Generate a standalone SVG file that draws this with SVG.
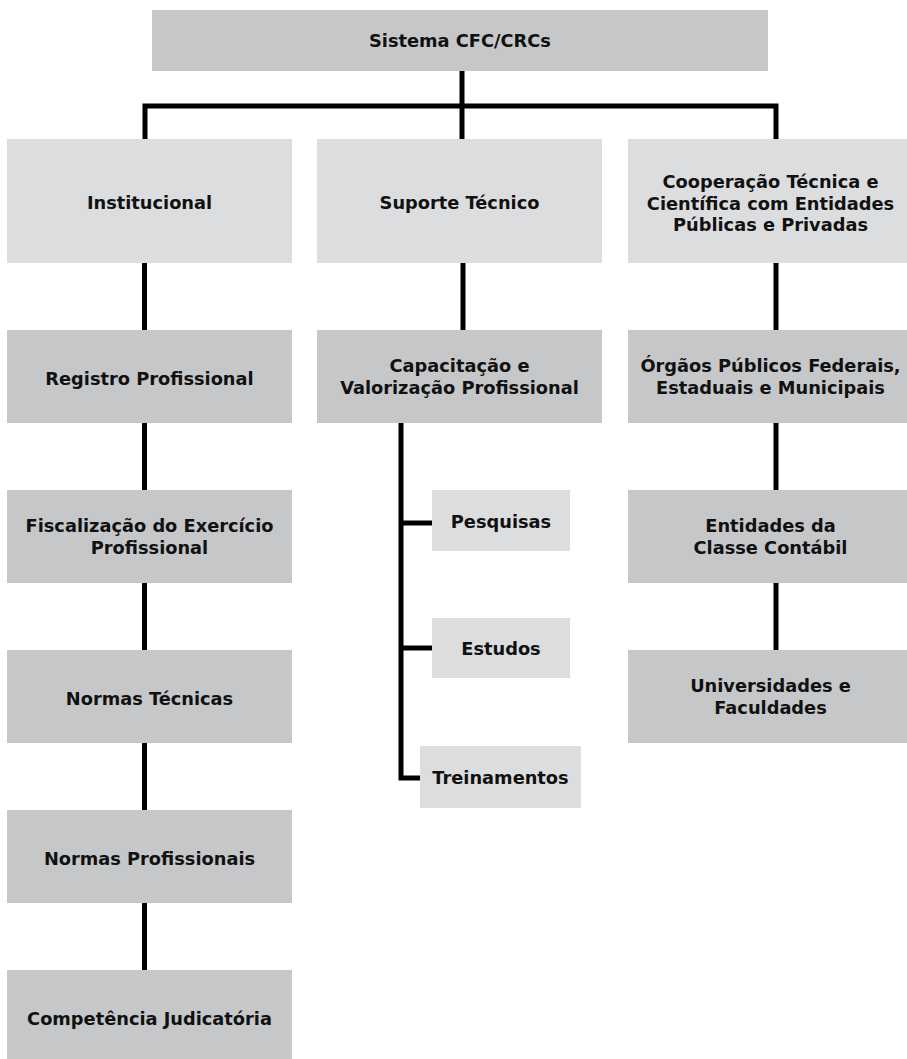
<svg xmlns="http://www.w3.org/2000/svg" width="907" height="1059" viewBox="0 0 907 1059">
<style>
.dk{fill:#c6c7c9}
.lt{fill:#dcdddf}
text{font-family:"DejaVu Sans","Liberation Sans",sans-serif;font-weight:bold;font-size:17.8px;fill:#111;text-anchor:middle}
.ln{fill:none;stroke:#000;stroke-width:5;stroke-linecap:butt;stroke-linejoin:miter}
</style>
<rect width="907" height="1059" fill="#fff"/>
<g id="connectors">
<path class="ln" d="M462,71 V139"/>
<path class="ln" d="M145,139 V106 H776 V139"/>
<path class="ln" d="M144.5,263 V330 M144.5,423 V490 M144.5,583 V650 M144.5,743 V810 M144.5,903 V970"/>
<path class="ln" d="M463,263 V330"/>
<path class="ln" d="M401,423 V778 H420 M401,523 H432 M401,648 H432"/>
<path class="ln" d="M776,263 V330 M776,423 V490 M776,583 V650"/>
</g>
<g id="n-sistema"><rect class="dk" x="152" y="10" width="616" height="61"/><text x="460" y="47">Sistema CFC/CRCs</text></g>
<g id="n-institucional"><rect class="lt" x="7" y="139" width="285" height="124"/><text x="149.5" y="209">Institucional</text></g>
<g id="n-suporte"><rect class="lt" x="317" y="139" width="285" height="124"/><text x="459.5" y="209">Suporte Técnico</text></g>
<g id="n-cooperacao"><rect class="lt" x="628" y="139" width="285" height="124"/><text x="770.5" y="188">Cooperação Técnica e</text><text x="770.5" y="209.5">Científica com Entidades</text><text x="770.5" y="231">Públicas e Privadas</text></g>
<g id="n-registro"><rect class="dk" x="7" y="330" width="285" height="93"/><text x="149.5" y="385">Registro Profissional</text></g>
<g id="n-fiscalizacao"><rect class="dk" x="7" y="490" width="285" height="93"/><text x="149.5" y="532">Fiscalização do Exercício</text><text x="149.5" y="553.5">Profissional</text></g>
<g id="n-normas-tecnicas"><rect class="dk" x="7" y="650" width="285" height="93"/><text x="149.5" y="705">Normas Técnicas</text></g>
<g id="n-normas-profissionais"><rect class="dk" x="7" y="810" width="285" height="93"/><text x="149.5" y="865">Normas Profissionais</text></g>
<g id="n-competencia"><rect class="dk" x="7" y="970" width="285" height="93"/><text x="149.5" y="1025">Competência Judicatória</text></g>
<g id="n-capacitacao"><rect class="dk" x="317" y="330" width="285" height="93"/><text x="459.5" y="372">Capacitação e</text><text x="459.5" y="393.5">Valorização Profissional</text></g>
<g id="n-pesquisas"><rect class="lt" x="432" y="490" width="138" height="61"/><text x="501" y="528">Pesquisas</text></g>
<g id="n-estudos"><rect class="lt" x="432" y="618" width="138" height="60"/><text x="501" y="655">Estudos</text></g>
<g id="n-treinamentos"><rect class="lt" x="420" y="746" width="161" height="62"/><text x="500.5" y="784">Treinamentos</text></g>
<g id="n-orgaos"><rect class="dk" x="628" y="330" width="285" height="93"/><text x="770.5" y="372">Órgãos Públicos Federais,</text><text x="770.5" y="393.5">Estaduais e Municipais</text></g>
<g id="n-entidades"><rect class="dk" x="628" y="490" width="285" height="93"/><text x="770.5" y="532">Entidades da</text><text x="770.5" y="553.5">Classe Contábil</text></g>
<g id="n-universidades"><rect class="dk" x="628" y="650" width="285" height="93"/><text x="770.5" y="692">Universidades e</text><text x="770.5" y="713.5">Faculdades</text></g>
</svg>
